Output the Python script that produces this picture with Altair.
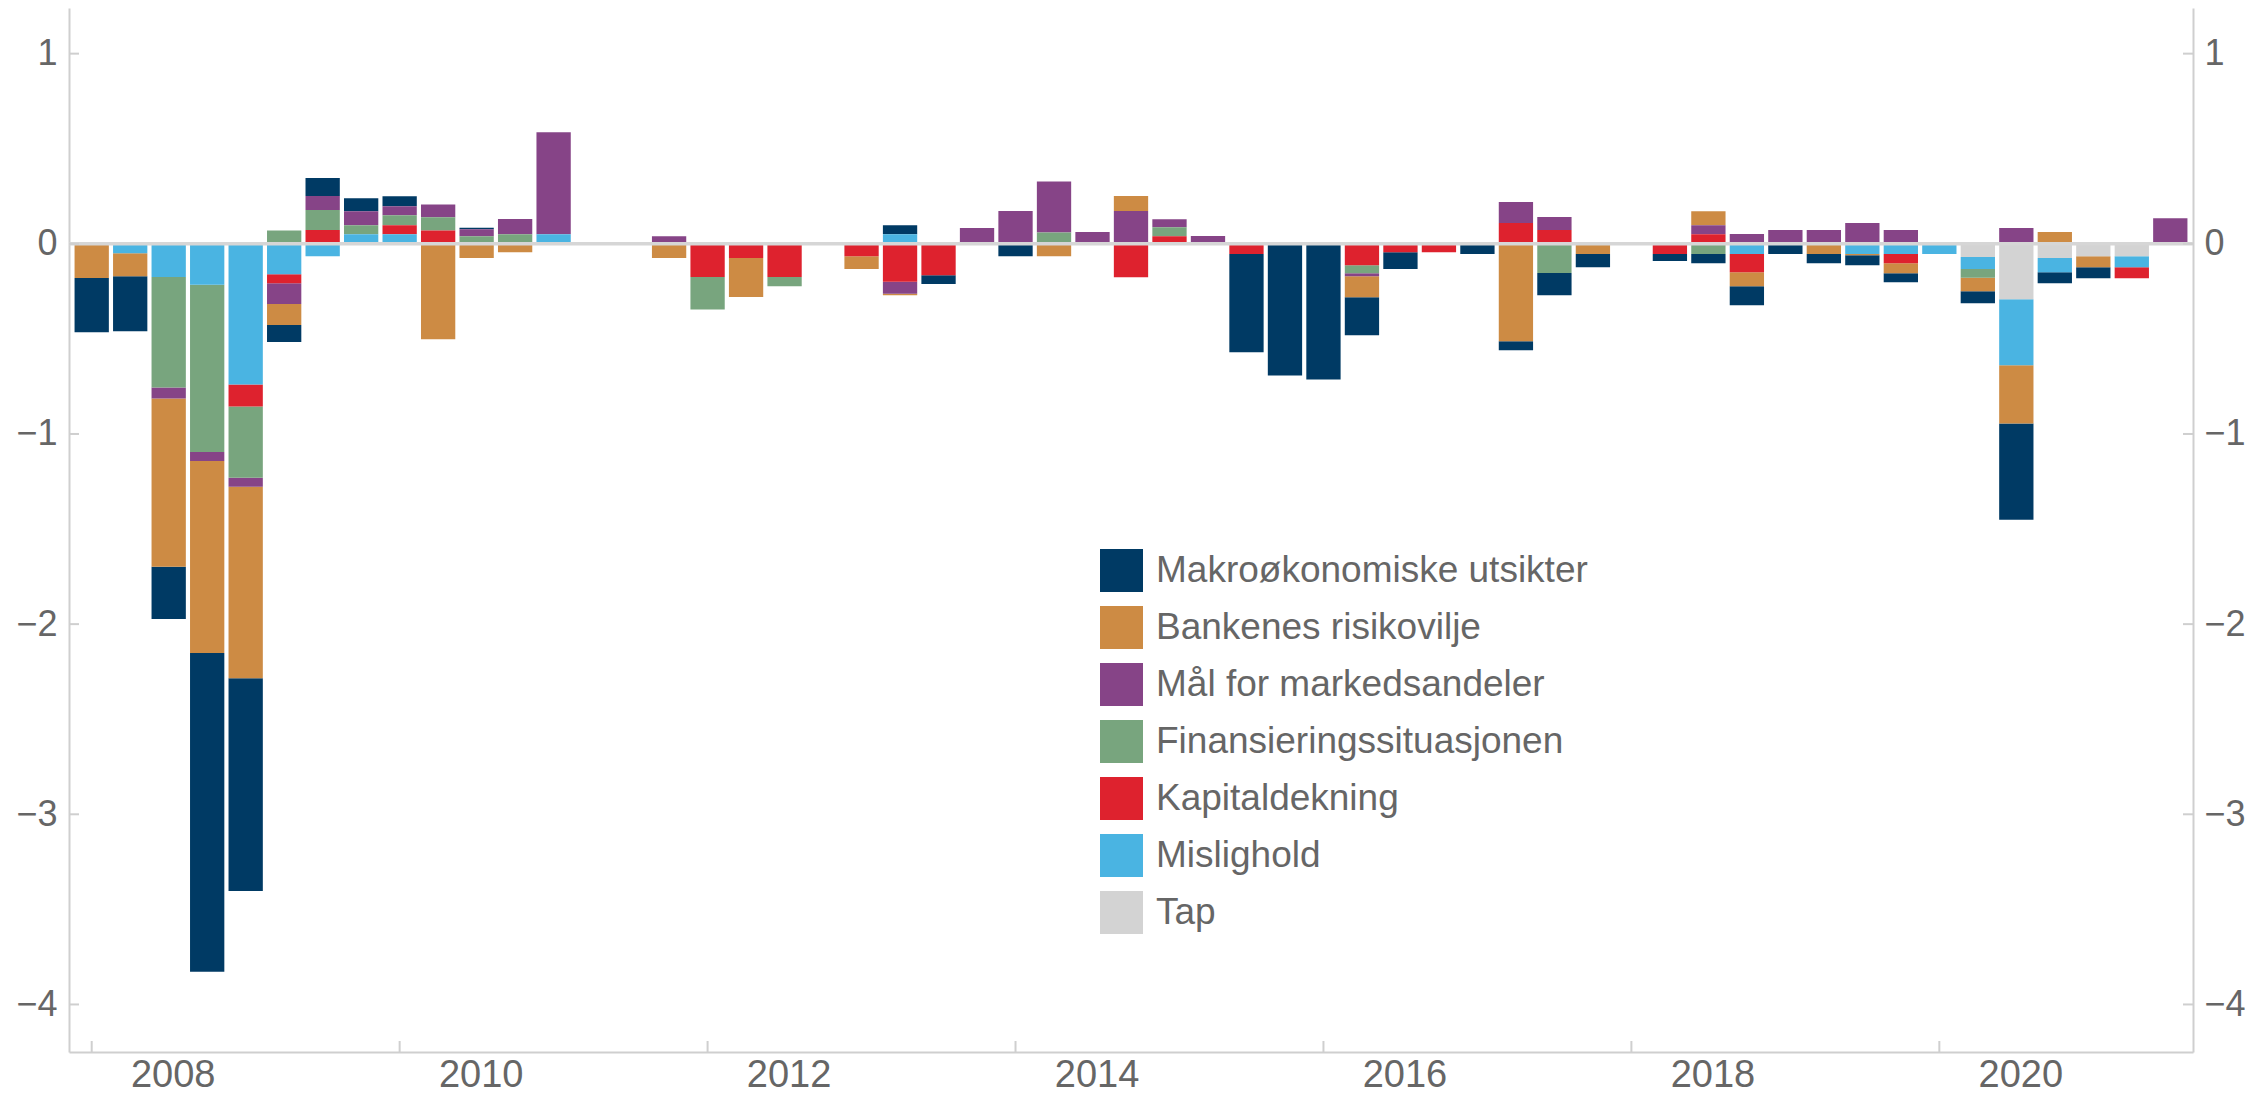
import altair as alt
import pandas as pd

quarters = [f"{2008 + i // 4}K{i % 4 + 1}" for i in range(55)]

series_names = [
    "Makroøkonomiske utsikter",
    "Bankenes risikovilje",
    "Mål for markedsandeler",
    "Finansieringssituasjonen",
    "Kapitaldekning",
    "Mislighold",
    "Tap",
]
series_colors = ["#003A64", "#CD8B44", "#864487", "#78A57E", "#DE222E", "#4AB4E2", "#D3D3D3"]

makro = [-0.285, -0.29, -0.275, -1.676, -1.12, -0.09, 0.095, 0.069, 0.053, 0, 0.008, 0,
         0, 0, 0, 0, 0, 0, 0, 0, 0, 0.048, -0.047, 0, -0.065, 0, 0, 0, 0, 0,
         -0.516, -0.692, -0.713, -0.2, -0.089, 0, -0.054, -0.047, -0.116, -0.069, 0, -0.037,
         -0.048, -0.1, -0.054, -0.048, -0.053, -0.047, 0, -0.064, -0.506, -0.058, -0.058, 0, 0]
bank = [-0.18, -0.12, -0.885, -1.01, -1.007, -0.11, 0, 0, 0, -0.502, -0.075, -0.044,
        0, 0, 0, -0.075, 0, -0.205, 0, 0, -0.068, -0.007, 0, 0, 0, -0.065, 0, 0.08, 0, 0,
        0, 0, 0, -0.111, 0, 0, 0, -0.513, 0, -0.054, 0, 0,
        0.073, -0.074, 0, -0.054, -0.006, -0.053, 0, -0.07, -0.306, 0.062, -0.058, 0, 0]
mal = [0, 0, -0.058, -0.047, -0.047, -0.11, 0.073, 0.073, 0.047, 0.067, 0.037, 0.08,
       0.537, 0, 0, 0.04, 0, 0, 0, 0, 0, -0.063, 0, 0.083, 0.172, 0.268, 0.062, 0.172, 0.042, 0.041,
       0, 0, 0, -0.015, 0, 0, 0, 0.11, 0.069, 0, 0, 0,
       0.048, 0.051, 0.072, 0.072, 0.109, 0.072, 0, 0, 0.083, 0, 0, 0, 0.125]
finans = [0, 0, -0.58, -0.88, -0.374, 0.07, 0.106, 0.048, 0.052, 0.07, 0.04, 0.05,
          0, 0, 0, 0, -0.17, 0, -0.048, 0, 0, 0, 0, 0, 0, 0.06, 0, 0, 0.047, 0,
          0, 0, 0, -0.042, 0, 0, 0, 0, -0.154, 0, 0, 0,
          -0.054, 0, 0, 0, 0, 0, 0, -0.046, 0, 0, 0, 0, 0.01]
kapital = [0, 0, 0, 0, -0.116, -0.047, 0.072, 0, 0.048, 0.07, 0, 0,
           0, 0, 0, 0, -0.175, -0.075, -0.175, 0, -0.065, -0.2, -0.165, 0, 0, 0, 0, -0.176, 0.04, 0,
           -0.054, 0, 0, -0.113, -0.044, -0.044, 0, 0.11, 0.072, 0, 0, -0.054,
           0.05, -0.095, 0, 0, 0, -0.048, 0, 0, 0, 0, 0, -0.058, 0]
mislighold = [0, -0.05, -0.175, -0.215, -0.74, -0.16, -0.065, 0.05, 0.05, 0, 0, 0,
              0.05, 0, 0, 0, 0, 0, 0, 0, 0, 0.05, 0, 0, 0, 0, 0, 0, 0, 0,
              0, 0, 0, 0, 0, 0, 0, 0, 0, 0, 0, 0,
              0, -0.054, 0, 0, -0.054, -0.054, -0.054, -0.063, -0.348, -0.074, 0, -0.058, 0]
tap = [0] * 49 + [-0.07, -0.291, -0.075, -0.065, -0.065, 0]

y_ticks = [-4, -3, -2, -1, 0, 1]
x_ticks = [2008, 2010, 2012, 2014, 2016, 2018, 2020]

all_series = [makro, bank, mal, finans, kapital, mislighold, tap]
stack_order = {n: k for k, n in enumerate(reversed(series_names))}

rows = []
for name, vals in zip(series_names, all_series):
    for q, v in zip(quarters, vals):
        if v != 0:
            year = int(q[:4])
            qn = int(q[-1])
            rows.append({"kvartal": q, "t": year + (qn - 1) / 4, "serie": name,
                         "verdi": v, "ord": stack_order[name]})
df = pd.DataFrame(rows)

W, H = 2124, 1044
GRID = "#cfcfcf"
TXT = "#666666"
FONT = "Liberation Sans"

xscale = alt.Scale(domain=[2007.885, 2021.615], nice=False, zero=False)
yscale = alt.Scale(domain=[-4.25, 1.24], nice=False, zero=False)

bars = alt.Chart(df).mark_bar(width=34.3).encode(
    x=alt.X("t:Q", scale=xscale,
            axis=alt.Axis(values=x_ticks, format="d", title=None, grid=False, ticks=False,
                          domainColor=GRID, domainWidth=2, labelFontSize=38, labelColor=TXT,
                          labelFont=FONT, labelOffset=81, labelPadding=4, labelFlush=False,
                          labelOverlap=False)),
    y=alt.Y("verdi:Q", stack="zero", scale=yscale,
            axis=alt.Axis(orient="left", values=y_ticks, title=None, grid=False, ticks=False,
                          domainColor=GRID, domainWidth=2, labelFontSize=36, labelColor=TXT,
                          labelFont=FONT, labelPadding=12)),
    color=alt.Color("serie:N", scale=alt.Scale(domain=series_names, range=series_colors),
                    legend=alt.Legend(title=None, orient="none", legendX=1031, legendY=541,
                                      symbolType="square", symbolSize=1849, symbolStrokeWidth=0,
                                      labelFontSize=37, labelColor=TXT, labelFont=FONT,
                                      rowPadding=14, labelOffset=13, labelLimit=800)),
    order=alt.Order("ord:Q"),
)

zero_df = pd.DataFrame({"z": [0]})
zero_line = alt.Chart(zero_df).mark_rule(color="#d6d6d6", strokeWidth=3.5).encode(
    y=alt.Y("z:Q", scale=yscale, axis=None)
)

ytick_df = pd.DataFrame({"v": y_ticks})
left_ticks = alt.Chart(ytick_df).mark_rule(color=GRID, strokeWidth=2).encode(
    y=alt.Y("v:Q", scale=yscale, axis=None), x=alt.value(0), x2=alt.value(10)
)
right_ticks = alt.Chart(ytick_df).mark_rule(color=GRID, strokeWidth=2).encode(
    y=alt.Y("v:Q", scale=yscale,
            axis=alt.Axis(orient="right", values=y_ticks, title=None, grid=False, ticks=False,
                          domainColor=GRID, domainWidth=2, labelFontSize=36, labelColor=TXT,
                          labelFont=FONT, labelPadding=11)),
    x=alt.value(W - 10), x2=alt.value(W),
)

xtick_df = pd.DataFrame({"yr": x_ticks})
bottom_ticks = alt.Chart(xtick_df).mark_rule(color=GRID, strokeWidth=2).encode(
    x=alt.X("yr:Q", scale=xscale, axis=None), y=alt.value(H - 11), y2=alt.value(H)
)

chart = alt.layer(bars, zero_line, left_ticks, right_ticks, bottom_ticks).resolve_axis(
    y="independent", x="independent"
).properties(
    width=W, height=H,
    autosize=alt.AutoSizeParams(type="none"),
    padding={"left": 61, "top": 0, "right": 56, "bottom": 46},
).configure_view(stroke=None)

chart.save("out.html", embed_options={"renderer": "svg", "actions": False})
